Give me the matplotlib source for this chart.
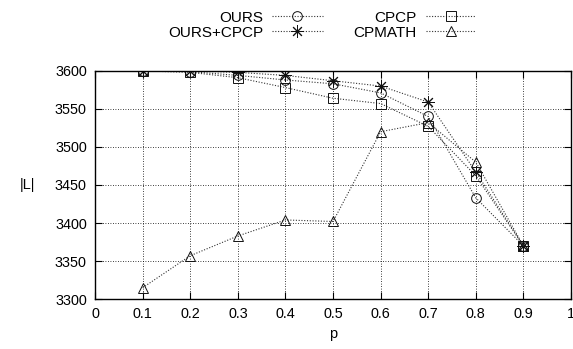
import matplotlib
matplotlib.use("Agg")
import matplotlib.pyplot as plt

plt.rcParams['font.family'] = ['Liberation Sans', 'DejaVu Sans']

p = [0.1, 0.2, 0.3, 0.4, 0.5, 0.6, 0.7, 0.8, 0.9]
ours = [3600, 3599, 3594, 3588, 3583, 3571, 3540, 3433, 3370]
ours_cpcp = [3600, 3600, 3598, 3594, 3587, 3580, 3559, 3467, 3370]
cpcp = [3600, 3598, 3591, 3578, 3564, 3557, 3527, 3462, 3370]
cpmath = [3315, 3357, 3383, 3404, 3402, 3520, 3532, 3480, 3370]

xticks = [0, 0.1, 0.2, 0.3, 0.4, 0.5, 0.6, 0.7, 0.8, 0.9, 1]
xticklabels = ["0", "0.1", "0.2", "0.3", "0.4", "0.5", "0.6", "0.7", "0.8", "0.9", "1"]
yticks = [3300, 3350, 3400, 3450, 3500, 3550, 3600]

fig = plt.figure(figsize=(5.73, 3.49), dpi=100)
ax = fig.add_axes([0.166, 0.143, 0.8305, 0.654])

series = [
    ("OURS", ours, "o", 7),
    ("OURS+CPCP", ours_cpcp, (8, 2, 0), 9),
    ("CPCP", cpcp, "s", 7),
    ("CPMATH", cpmath, "^", 7),
]
for name, vals, mk, ms in series:
    ax.plot(p, vals, linestyle=(0, (1, 1.5)), color="#333333", linewidth=0.8,
            marker=mk, markersize=ms, markerfacecolor="none",
            markeredgecolor="#111111", markeredgewidth=0.7, label=name)

ax.set_xlim(0, 1)
ax.set_ylim(3300, 3600)
ax.set_xticks(xticks)
ax.set_xticklabels(xticklabels)
ax.set_yticks(yticks)
ax.tick_params(direction="in", top=True, right=True, length=5, width=0.8,
               labelsize=10.4, pad=6)
ax.grid(True, linestyle=(0, (1, 2)), color="black", linewidth=0.6)
for s in ax.spines.values():
    s.set_linewidth(1.0)

ax.set_xlabel("p", fontsize=10.5, labelpad=4)
ax.set_ylabel("|L|", fontsize=10.5, rotation=0, labelpad=20, va="center")

fig.legend(loc="center", bbox_to_anchor=(0.562, 0.928), ncol=2,
           frameon=False, markerfirst=False, numpoints=1, handlelength=3.3,
           fontsize=11, labelspacing=0.05, columnspacing=2.0, handletextpad=0.6)

fig.savefig("out.png", dpi=100)
